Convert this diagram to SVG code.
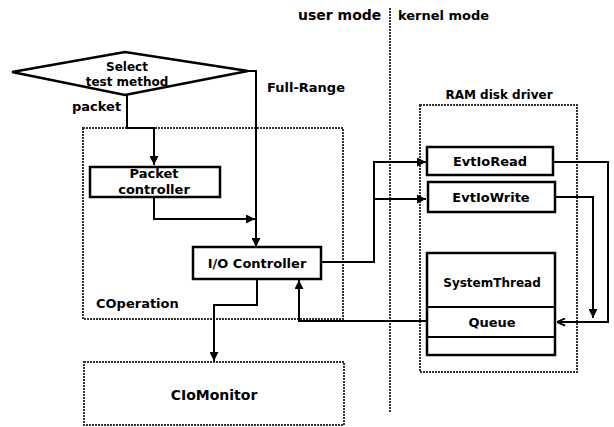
<svg xmlns="http://www.w3.org/2000/svg" width="614" height="427" viewBox="0 0 614 427">
  <defs>
    <marker id="arrow" viewBox="0 0 10 10" refX="10" refY="5" markerWidth="9" markerHeight="9" markerUnits="userSpaceOnUse" orient="auto">
      <path d="M0,0 L10,5 L0,10 z" fill="#000"/>
    </marker>
    <marker id="open" viewBox="0 0 10 10" refX="10" refY="5" markerWidth="9" markerHeight="9" markerUnits="userSpaceOnUse" orient="auto">
      <path d="M1,1 L10,5 L1,9" fill="none" stroke="#000" stroke-width="2"/>
    </marker>
  </defs>
  <style>
    .t { font-family: "DejaVu Sans", "Liberation Sans", sans-serif; font-weight: bold; font-size: 13px; fill: #000; }
    .big { font-size: 14px; }
    .small { font-size: 12px; }
    .mid { text-anchor: middle; }
    .box { fill: #fff; stroke: #000; stroke-width: 2.5; }
    .dot { fill: none; stroke: #333; stroke-width: 2; stroke-dasharray: 2 1; }
    .wire { fill: none; stroke: #000; stroke-width: 2; }
  </style>
  <rect width="614" height="427" fill="#fff"/>

  <!-- mode labels and divider -->
  <g id="modes">
    <text class="t big" x="298" y="20">user mode</text>
    <text class="t" x="398" y="20">kernel mode</text>
    <line x1="390" y1="8" x2="390" y2="412" class="dot"/>
  </g>

  <!-- container boxes -->
  <g id="coperation">
    <rect x="83" y="128" width="260" height="191" class="dot"/>
    <text class="t" x="96" y="308">COperation</text>
  </g>
  <g id="ramdisk">
    <rect x="420" y="105" width="157" height="267" class="dot"/>
    <text class="t small" x="499" y="99" text-anchor="middle">RAM disk driver</text>
  </g>
  <g id="ciomonitor">
    <rect x="84" y="362" width="260" height="63" class="dot"/>
    <text class="t big mid" x="214" y="400">CIoMonitor</text>
  </g>

  <!-- connectors -->
  <g id="connectors">
    <polyline class="wire" points="127,95 127,128 154,128 154,165" marker-end="url(#arrow)"/>
    <polyline class="wire" points="248,71 256,71 256,247" marker-end="url(#arrow)"/>
    <polyline class="wire" points="154,197 154,219 255,219" marker-end="url(#arrow)"/>
    <polyline class="wire" points="257,279 257,305 214,305 214,361" marker-end="url(#arrow)"/>
    <polyline class="wire" points="321,262 374,262 374,162 426,162" marker-end="url(#arrow)"/>
    <polyline class="wire" points="374,199 426,199" marker-end="url(#arrow)"/>
    <polyline class="wire" points="553,162 608,162 608,322 557,322" marker-end="url(#open)"/>
    <polyline class="wire" points="555,197 593,197 593,318" marker-end="url(#arrow)"/>
    <polyline class="wire" points="427,321 299,321 299,280" marker-end="url(#arrow)"/>
  </g>

  <!-- decision -->
  <g id="select">
    <polygon points="12,72 125,52 248,71 125,95" fill="#fff" stroke="#000" stroke-width="2.5"/>
    <text class="t small mid" x="127" y="71">Select</text>
    <text class="t small mid" x="127" y="86">test method</text>
    <text class="t" x="72" y="111">packet</text>
    <text class="t" x="267" y="92">Full-Range</text>
  </g>

  <g id="packet-controller">
    <rect x="90" y="167" width="130" height="30" class="box"/>
    <text class="t mid" x="154" y="178">Packet</text>
    <text class="t mid" x="154" y="194">controller</text>
  </g>

  <g id="io-controller">
    <rect x="193" y="247" width="128" height="32" class="box"/>
    <text class="t mid" x="257" y="268">I/O Controller</text>
  </g>

  <g id="evtioread">
    <rect x="427" y="147" width="126" height="28" class="box"/>
    <text class="t mid" x="490" y="166">EvtIoRead</text>
  </g>
  <g id="evtiowrite">
    <rect x="428" y="182" width="127" height="30" class="box"/>
    <text class="t mid" x="491" y="202">EvtIoWrite</text>
  </g>

  <g id="systemthread">
    <rect x="427" y="253" width="128" height="102" class="box"/>
    <line x1="427" y1="307" x2="555" y2="307" stroke="#000" stroke-width="2"/>
    <line x1="427" y1="337" x2="555" y2="337" stroke="#000" stroke-width="2"/>
    <text class="t small mid" x="492" y="287">SystemThread</text>
    <text class="t mid" x="492" y="327">Queue</text>
  </g>
</svg>
